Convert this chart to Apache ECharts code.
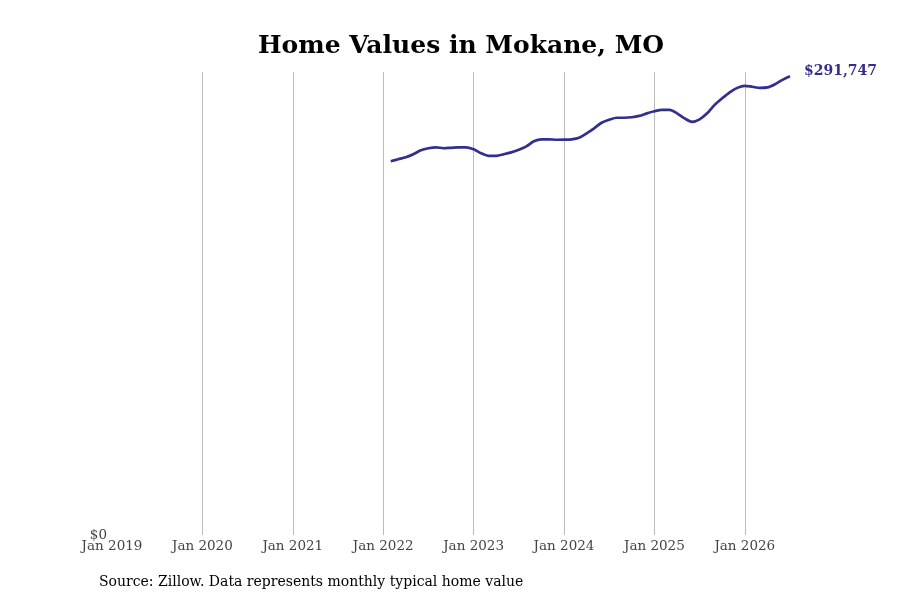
<!DOCTYPE html>
<html lang="en">
<head>
    <meta charset="UTF-8">
    <title>Home Values in Mokane, MO</title>
    <style>
        html, body { margin: 0; padding: 0; background: #fff; }
        #chart { width: 900px; height: 600px; }
    </style>
</head>
<body>
<div id="chart"></div>
<script src="https://cdn.jsdelivr.net/npm/echarts@6/dist/echarts.min.js"></script>
<script type="text/javascript">
    // months with a value, Feb 2022 .. Jul 2026
    var firstYear = 2019;
    var dataStart = '2022-02';
    var homeValues = [
        237700, 239000, 240300, 242200, 244700, 246000, 246600, 246000, 246300, 246600, 246600,
        245300, 242800, 241200, 241200, 242200, 243400, 245000, 247200, 250400, 251700, 251700, 251400,
        251500, 251700, 252700, 255500, 258700, 262200, 264100, 265400, 265400, 265700, 266600, 268200,
        269500, 270400, 270400, 268200, 265000, 262800, 264400, 268200, 273600, 277800, 281600, 284400,
        285700, 285100, 284400, 284700, 286700, 289500, 291747
    ];
    var yMax = 294500;
    var sourceText = 'Source: Zillow. Data represents monthly typical home value';

    var monthNames = ['Jan', 'Feb', 'Mar', 'Apr', 'May', 'Jun', 'Jul', 'Aug', 'Sep', 'Oct', 'Nov', 'Dec'];
    var months = [];
    var values = [];
    var started = false, k = 0;
    for (var y = firstYear; y <= 2026; y++) {
        for (var m = 0; m < 12; m++) {
            var key = y + '-' + (m < 9 ? '0' : '') + (m + 1);
            if (key === dataStart) started = true;
            if (started && k >= homeValues.length) break;
            months.push(monthNames[m] + ' ' + y);
            values.push(started ? homeValues[k++] : null);
        }
    }

    var chart = echarts.init(document.getElementById('chart'));
    var serif = 'DejaVu Serif';
    var option = {
        backgroundColor: '#fff',
        animation: false,
        title: {
            text: 'Home Values in Mokane, MO',
            left: 456,
            textAlign: 'center',
            top: 29,
            textStyle: { fontFamily: serif, fontSize: 25, fontWeight: 'bold', color: '#000' }
        },
        grid: { left: 112, right: 110, top: 72, bottom: 65 },
        xAxis: {
            type: 'category',
            data: months,
            boundaryGap: false,
            axisLine: { show: false },
            axisTick: { show: false },
            axisLabel: {
                interval: function (i) { return i % 12 === 0; },
                formatter: function (v) { return v; },
                fontFamily: serif, fontSize: 13.5, color: '#444', margin: 4
            },
            splitLine: {
                show: true,
                interval: function (i) { return i % 12 === 0 && i > 0; },
                lineStyle: { color: '#bbb', width: 1 }
            }
        },
        yAxis: {
            type: 'value',
            min: 0,
            max: yMax,
            interval: yMax,
            axisLine: { show: false },
            axisTick: { show: false },
            splitLine: { show: false },
            axisLabel: {
                formatter: function (v) { return v === 0 ? '$0' : ''; },
                fontFamily: serif, fontSize: 13.5, color: '#444', margin: 5,
                padding: [4, 0, 0, 0]
            }
        },
        series: [{
            type: 'line',
            data: values,
            smooth: 0.3,
            showSymbol: false,
            connectNulls: false,
            lineStyle: { color: '#332f8c', width: 2.7 },
            itemStyle: { color: '#332f8c' },
            endLabel: {
                show: true,
                formatter: function (p) { return '$' + p.value.toLocaleString('en-US'); },
                fontFamily: serif, fontSize: 14, fontWeight: 'bold', color: '#332f8c',
                offset: [6, -5]
            }
        }],
        graphic: [{
            type: 'text',
            left: 99,
            top: 575,
            style: { text: sourceText, fontFamily: serif, fontSize: 14, fill: '#000' }
        }]
    };
    chart.setOption(option);
</script>
</body>
</html>
